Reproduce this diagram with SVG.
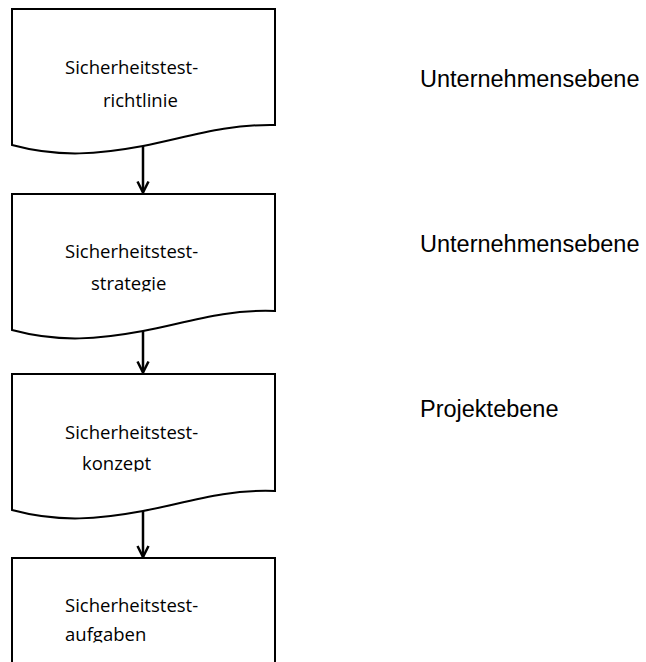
<svg xmlns="http://www.w3.org/2000/svg" width="646" height="662" viewBox="0 0 646 662">
<style>
.box{fill:#fff;stroke:#000;stroke-width:2;stroke-linejoin:miter}
.t{font-family:"Open Sans","DejaVu Sans",sans-serif;font-size:18.5px;fill:#000}
.lbl{font-family:"Liberation Sans",Arial,sans-serif;font-size:23.5px;fill:#000}
.con{stroke:#000;stroke-width:2.5;fill:none}
</style>
<defs>
<marker id="arr" markerUnits="userSpaceOnUse" markerWidth="18" markerHeight="18" viewBox="-14 -9 18 18" refX="0" refY="0" orient="auto">
<path d="M-11,-5.5 L0,0 L-11,5.5" fill="none" stroke="#000" stroke-width="2.5"/>
</marker>
<clipPath id="c2"><rect x="0" y="194" width="300" height="97.5"/></clipPath>
<clipPath id="c3"><rect x="0" y="374" width="300" height="97.5"/></clipPath>
<clipPath id="c4"><rect x="0" y="558" width="300" height="84.5"/></clipPath>
</defs>
<g id="connectors">
<line class="con" x1="143" y1="146" x2="143" y2="192.5" marker-end="url(#arr)"/>
<line class="con" x1="143" y1="331" x2="143" y2="372.5" marker-end="url(#arr)"/>
<line class="con" x1="143" y1="511" x2="143" y2="557" marker-end="url(#arr)"/>
</g>
<g id="node1">
<path class="box" d="M12,145 V9 H275 V125 C225,124 185,138 143,146 C100,154 60,158 12,145 Z"/>
<text class="t" x="65" y="74">Sicherheitstest-</text>
<text class="t" x="103" y="106.5">richtlinie</text>
</g>
<g id="node2">
<path class="box" d="M12,330 V194 H275 V311 C225,309 185,323 143,331 C100,339 60,343 12,330 Z"/>
<text class="t" x="65" y="257.5">Sicherheitstest-</text>
<text class="t" x="91" y="290" clip-path="url(#c2)">strategie</text>
</g>
<g id="node3">
<path class="box" d="M12,510 V374 H275 V491 C225,489 185,503 143,511 C100,519 60,523 12,510 Z"/>
<text class="t" x="65" y="438.5">Sicherheitstest-</text>
<text class="t" x="82" y="470" clip-path="url(#c3)">konzept</text>
</g>
<g id="node4">
<rect class="box" x="12" y="558" width="263" height="120"/>
<text class="t" x="65" y="611.5">Sicherheitstest-</text>
<text class="t" x="65" y="641" clip-path="url(#c4)">aufgaben</text>
</g>
<g id="labels">
<text class="lbl" x="420" y="87">Unternehmensebene</text>
<text class="lbl" x="420" y="252">Unternehmensebene</text>
<text class="lbl" x="420" y="417">Projektebene</text>
</g>
</svg>
